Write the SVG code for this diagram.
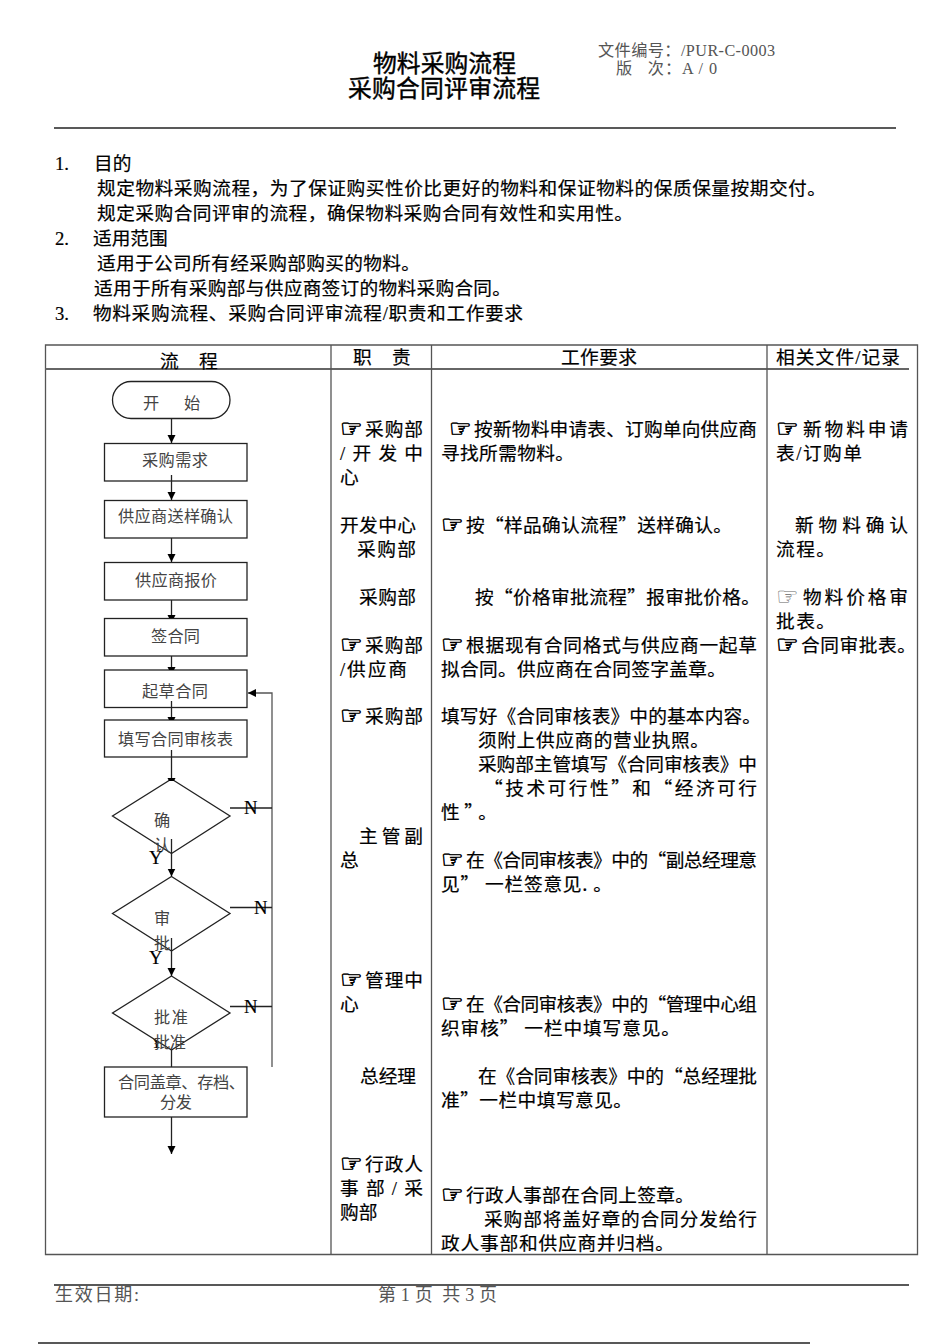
<svg xmlns="http://www.w3.org/2000/svg" width="950" height="1344" viewBox="0 0 950 1344">
<style>
text{font-family:"Liberation Serif","Noto Sans CJK SC",serif;fill:#000;white-space:pre}
.b{font-size:18.7px;stroke:#000;stroke-width:.2}
.f{font-size:16.2px;fill:#444}
.g{font-size:16.2px;fill:#555}
.t{font-size:23.8px;stroke:#000;stroke-width:.4}
.q{font-family:"Noto Sans CJK SC","Liberation Serif",sans-serif}
.h{font-family:"DejaVu Sans",sans-serif;font-size:25px;stroke:#000;stroke-width:.7}
.hl{font-family:"DejaVu Sans",sans-serif;font-size:25px;fill:#666;stroke:none}
.n{fill:#fff;stroke:#222;stroke-width:1.3}
.c{fill:none;stroke:#222;stroke-width:1.3}
.gl{fill:none;stroke:#555;stroke-width:1.3}
</style>
<defs>
<marker id="a" markerUnits="userSpaceOnUse" markerWidth="9" markerHeight="9" refX="8" refY="4" orient="auto"><path d="M0 0L8 4L0 8Z" fill="#000"/></marker>
<marker id="t" markerUnits="userSpaceOnUse" markerWidth="4" markerHeight="9" refX="3" refY="4" orient="auto"><path d="M0 0L3 1.500V6.500L0 8Z" fill="#000"/></marker>
</defs>
<g id="header">
<text class="t" x="373" y="72" textLength="143">物料采购流程</text>
<text class="t" x="348" y="96.500" textLength="192">采购合同评审流程</text>
<text class="g" x="598" y="56" textLength="177">文件编号：/PUR-C-0003</text>
<text class="g" x="616" y="74" textLength="101">版   次：A / 0</text>
<path class="c" d="M54 128H896"/>
</g>
<g id="intro" class="b">
<text x="55" y="170">1.</text><text x="94" y="170">目的</text>
<text x="97" y="195" textLength="729">规定物料采购流程，为了保证购买性价比更好的物料和保证物料的保质保量按期交付。</text>
<text x="97" y="220" textLength="536">规定采购合同评审的流程，确保物料采购合同有效性和实用性。</text>
<text x="55" y="245">2.</text><text x="93" y="245">适用范围</text>
<text x="97" y="270" textLength="323">适用于公司所有经采购部购买的物料。</text>
<text x="94" y="295" textLength="417">适用于所有采购部与供应商签订的物料采购合同。</text>
<text x="55" y="320">3.</text><text x="93" y="320" textLength="430">物料采购流程、采购合同评审流程/职责和工作要求</text>
</g>
<g id="table">
<path class="gl" d="M45.500 345H917.500V1254.500H45.500Z"/>
<path d="M45.500 369H909" fill="none" stroke="#666" stroke-width="1.800"/>
<path class="gl" d="M331 345V1254M431.500 345V1254M767 345V1254"/>
</g>
<g id="table-text" class="b">
<text x="160" y="368">流</text><text x="199" y="368">程</text>
<text x="353" y="364">职</text><text x="392" y="364">责</text>
<text x="561" y="364" textLength="76">工作要求</text>
<text x="776" y="364" textLength="124">相关文件/记录</text>

<text class="h" x="340" y="437">☞</text><text x="365" y="435.500" textLength="58">采购部</text>
<text x="340" y="459.500" textLength="83">/ 开 发 中</text>
<text x="340" y="483.500">心</text>
<text x="340" y="531.500" textLength="76">开发中心</text>
<text x="357" y="555.500" textLength="59">采购部</text>
<text x="359" y="603.500" textLength="57">采购部</text>
<text class="h" x="340" y="653">☞</text><text x="365" y="651.500" textLength="58">采购部</text>
<text x="340" y="675.500" textLength="67">/供应商</text>
<text class="h" x="340" y="724">☞</text><text x="365" y="722.500" textLength="58">采购部</text>
<text x="359" y="842.500" textLength="64">主 管 副</text>
<text x="340" y="866.500">总</text>
<text class="h" x="340" y="988">☞</text><text x="365" y="986.500" textLength="58">管理中</text>
<text x="340" y="1010.500">心</text>
<text x="360" y="1082.500" textLength="56">总经理</text>
<text class="h" x="340" y="1172">☞</text><text x="365" y="1170.500" textLength="58">行政人</text>
<text x="340" y="1194.500" textLength="83">事 部 / 采</text>
<text x="340" y="1218.500">购部</text>

<text class="h" x="449" y="437">☞</text><text x="474" y="435.500" textLength="283">按新物料申请表、订购单向供应商</text>
<text x="441" y="459.500" textLength="133">寻找所需物料。</text>
<text class="h" x="441" y="533">☞</text><text class="q" x="466" y="531.500" textLength="266">按“样品确认流程”送样确认。</text>
<text class="q" x="475" y="603.500" textLength="285">按“价格审批流程”报审批价格。</text>
<text class="h" x="441" y="653">☞</text><text x="466" y="651.500" textLength="291">根据现有合同格式与供应商一起草</text>
<text x="441" y="675.500" textLength="285">拟合同。供应商在合同签字盖章。</text>
<text x="441" y="722.500" textLength="320">填写好《合同审核表》中的基本内容。</text>
<text x="478" y="746.500" textLength="231">须附上供应商的营业执照。</text>
<text x="478" y="770.500" textLength="279">采购部主管填写《合同审核表》中</text>
<text class="q" x="484" y="794.500" textLength="273">“技术可行性”和“经济可行</text>
<text class="q" x="441" y="818.500" textLength="56">性”。</text>
<text class="h" x="441" y="868">☞</text><text class="q" x="466" y="866.500" textLength="291">在《合同审核表》中的“副总经理意</text>
<text class="q" x="441" y="890.500" textLength="171">见” 一栏签意见. 。</text>
<text class="h" x="441" y="1012">☞</text><text class="q" x="466" y="1010.500" textLength="291">在《合同审核表》中的“管理中心组</text>
<text class="q" x="441" y="1034.500" textLength="239">织审核” 一栏中填写意见。</text>
<text class="q" x="478" y="1082.500" textLength="279">在《合同审核表》中的“总经理批</text>
<text class="q" x="441" y="1106.500" textLength="191">准”一栏中填写意见。</text>
<text class="h" x="441" y="1203">☞</text><text x="466" y="1201.500" textLength="228">行政人事部在合同上签章。</text>
<text x="484" y="1225.500" textLength="273">采购部将盖好章的合同分发给行</text>
<text x="441" y="1249.500" textLength="233">政人事部和供应商并归档。</text>

<text class="h" x="776" y="437">☞</text><text x="803" y="435.500" textLength="105">新物料申请</text>
<text x="776" y="459.500" textLength="86">表/订购单</text>
<text x="795" y="531.500" textLength="113">新物料确认</text>
<text x="776" y="555.500" textLength="59">流程。</text>
<text class="hl" x="776" y="605">☞</text><text x="803" y="603.500" textLength="105">物料价格审</text>
<text x="776" y="627.500" textLength="59">批表。</text>
<text class="h" x="776" y="653">☞</text><text x="801" y="651.500" textLength="115">合同审批表。</text>
</g>
<g id="n-start"><rect class="n" x="112.500" y="381.500" width="117.500" height="37" rx="18.500"/><text class="f" x="143" y="409">开</text><text class="f" x="184" y="409">始</text></g>
<g id="n-need"><rect class="n" x="104.500" y="443.500" width="142.500" height="37.500"/><text class="f" x="142" y="466" textLength="66">采购需求</text></g>
<g id="n-sample"><rect class="n" x="104.500" y="500.500" width="142.500" height="37.500"/><text class="f" x="118" y="522" textLength="115">供应商送样确认</text></g>
<g id="n-quote"><rect class="n" x="104.500" y="562.500" width="142.500" height="37.500"/><text class="f" x="135" y="586" textLength="82">供应商报价</text></g>
<g id="n-sign"><rect class="n" x="104.500" y="618.500" width="142.500" height="37.500"/><text class="f" x="151" y="642" textLength="49">签合同</text></g>
<g id="n-draft"><rect class="n" x="104.500" y="670" width="142.500" height="37.500"/><text class="f" x="142" y="697" textLength="66">起草合同</text></g>
<g id="n-form"><rect class="n" x="104.500" y="720" width="142.500" height="37"/><text class="f" x="118" y="745" textLength="115">填写合同审核表</text></g>
<g id="n-d1"><path class="n" d="M171.500 779L230 816L171.500 853.500L112.500 816Z"/><text class="f" x="154" y="826">确</text><text class="f" x="154" y="851">认</text></g>
<g id="n-d2"><path class="n" d="M171.500 876.500L230 913.500L171.500 951L112.500 913.500Z"/><text class="f" x="154" y="924">审</text><text class="f" x="154" y="949">批</text></g>
<text class="b" x="150" y="1048">Y</text>
<g id="n-d3"><path class="n" d="M171.500 976L230 1013L171.500 1050L112.500 1013Z"/><text class="f" x="154" y="1023" textLength="34">批准</text><text class="f" x="154" y="1048" textLength="32">批准</text></g>
<g id="n-seal"><rect class="n" x="104.500" y="1067" width="142.500" height="50"/><text class="f" x="118" y="1088" textLength="127">合同盖章、存档、</text><text class="f" x="160" y="1108" textLength="32">分发</text></g>
<g id="connectors">
<path class="c" marker-end="url(#a)" d="M171.500 419V443"/>
<path class="c" marker-end="url(#a)" d="M171.500 475V500"/>
<path class="c" marker-end="url(#a)" d="M171.500 538V562"/>
<path class="c" marker-end="url(#t)" d="M171.500 600V618"/>
<path class="c" marker-end="url(#t)" d="M171.500 656V670"/>
<path class="c" marker-end="url(#t)" d="M171.500 701V720"/>
<path class="c" marker-end="url(#t)" d="M171.500 750V781"/>
<path class="c" marker-end="url(#a)" d="M171.500 839V876.500"/>
<path class="c" marker-end="url(#a)" d="M171.500 938V976"/>
<path class="c" d="M171.500 1050V1067"/>
<path class="c" marker-end="url(#a)" d="M171.500 1117V1154"/>
<path class="gl" marker-end="url(#a)" d="M272 1067V693H248"/>
<path class="c" d="M230 808H272M230 907.500H272M230 1006.500H272"/>
</g>
<g id="labels" class="b">
<text x="244" y="814">N</text><text x="254" y="914">N</text><text x="244" y="1013">N</text>
<text x="149" y="864">Y</text><text x="149" y="964">Y</text>
</g>
<g id="footer">
<path class="c" d="M54 1285H909M38 1343H810"/>
<text class="g" x="55" y="1301" style="font-size:18px" textLength="84">生效日期:</text>
<text class="g" x="378" y="1301" style="font-size:18px" textLength="119">第 1 页  共 3 页</text>
</g>
</svg>
